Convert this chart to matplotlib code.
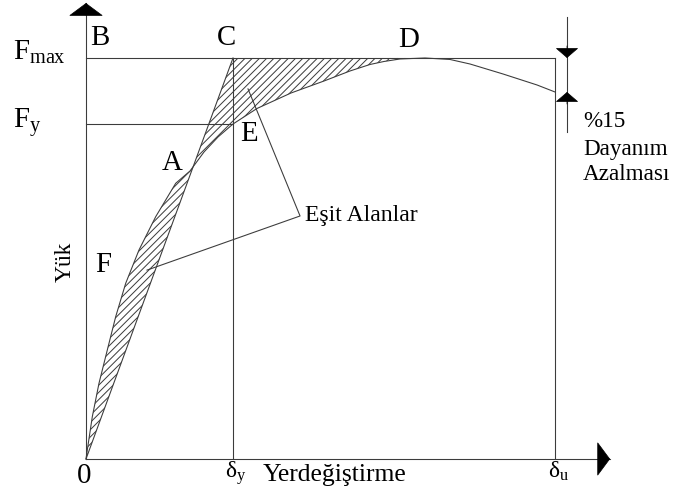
import numpy as np
import matplotlib.pyplot as plt

plt.rcParams['font.family'] = ['Liberation Serif', 'DejaVu Serif']
plt.rcParams['mathtext.fontset'] = 'custom'
plt.rcParams['mathtext.rm'] = 'Liberation Serif'
plt.rcParams['mathtext.it'] = 'Liberation Serif:italic'
plt.rcParams['hatch.linewidth'] = 0.55

# displacement normalised by delta_y, load normalised by F_max
curve_disp = [0.0, 0.0088, 0.0429, 0.0884, 0.1449, 0.2020, 0.2701, 0.3605,
              0.4741, 0.6102, 0.7075, 0.8027, 0.8980, 1.0, 1.1633, 1.3946,
              1.6190, 1.7959, 1.9320, 2.0272, 2.1361, 2.3061, 2.4762, 2.6122,
              2.8367, 3.0680, 3.1905]
curve_load = [0.0, 0.0224, 0.1055, 0.1888, 0.2718, 0.3549, 0.4382, 0.5212,
              0.6042, 0.6875, 0.7182, 0.7656, 0.8030, 0.8354, 0.8741, 0.9127,
              0.9426, 0.9676, 0.9838, 0.9913, 0.9975, 1.0, 0.9963, 0.9850,
              0.9601, 0.9327, 0.9152]

d_y, d_u = 1.0, 3.19
F_max, F_y = 1.0, 0.8354
F_u = 0.9152

# leader lines for the "equal areas" note
leader_disp = [1.102, 1.456, 0.415]
leader_load = [0.923, 0.606, 0.471]

LINE = '#3c3c3c'
LW = 0.6
DPI = 130

fig = plt.figure(figsize=(678 / DPI, 495 / DPI), dpi=DPI)
ax = fig.add_axes([0, 0, 1, 1])
ax.set_xlim(-0.585, 4.027)
ax.set_ylim(-0.0898, 1.1446)
ax.axis('off')

x = np.array(curve_disp)
y = np.array(curve_load)
peak = int(np.argmax(y))
bilinear = np.minimum(x, F_max)

# hatched areas between the capacity curve and the idealised bilinear line
ax.fill_between(x[:peak + 1], y[:peak + 1], bilinear[:peak + 1], interpolate=True,
                facecolor='none', edgecolor=LINE, hatch='//////', linewidth=0)

ax.plot(x, y, color=LINE, lw=LW, solid_joinstyle='round')
ax.plot([0, d_y], [0, F_max], color=LINE, lw=LW)
ax.plot([0, d_u], [F_max, F_max], color=LINE, lw=LW)
ax.plot([0, d_y], [F_y, F_y], color=LINE, lw=LW)
ax.plot([d_y, d_y], [0, F_max], color=LINE, lw=LW)
ax.plot([d_u, d_u], [0, F_max], color=LINE, lw=LW)
ax.plot(leader_disp, leader_load, color=LINE, lw=LW)

# axes with filled arrowheads
y_top = 1.137
x_end = 3.565
ax.plot([0, 0], [0, y_top], color=LINE, lw=LW)
ax.plot([0, x_end], [0, 0], color=LINE, lw=LW)
head = dict(shrinkA=0, shrinkB=0, mutation_scale=1, color='black', lw=0.4)
ax.annotate('', xy=(0, y_top), xytext=(0, y_top - 0.03),
            arrowprops=dict(arrowstyle='-|>,head_length=6.6,head_width=8.9', **head))
ax.annotate('', xy=(x_end, 0), xytext=(x_end - 0.08, 0),
            arrowprops=dict(arrowstyle='-|>,head_length=6.6,head_width=8.9', **head))

# strength-drop dimension
x_dim = 3.272
ax.plot([x_dim, x_dim], [0.815, 1.102], color=LINE, lw=LW)
ax.annotate('', xy=(x_dim, F_max), xytext=(x_dim, F_max + 0.03),
            arrowprops=dict(arrowstyle='-|>,head_length=5.0,head_width=5.8', **head))
ax.annotate('', xy=(x_dim, F_u), xytext=(x_dim, F_u - 0.03),
            arrowprops=dict(arrowstyle='-|>,head_length=5.0,head_width=5.8', **head))

big = 16
ax.text(-0.497, 0.995, r'F$_{\mathrm{max}}$', fontsize=big, va='baseline')
ax.text(-0.497, 0.825, r'F$_{\mathrm{y}}$', fontsize=big, va='baseline')
ax.text(0.027, 1.032, 'B', fontsize=big, va='baseline')
ax.text(0.959, 1.032, 'C', fontsize=big, va='baseline', ha='center')
ax.text(2.197, 1.027, 'D', fontsize=big, va='baseline', ha='center')
ax.text(1.048, 0.793, 'E', fontsize=big, va='baseline')
ax.text(0.517, 0.721, 'A', fontsize=big, va='baseline')
ax.text(0.061, 0.466, 'F', fontsize=big, va='baseline')
ax.text(-0.061, -0.060, '0', fontsize=big, va='baseline')

ax.text(0.946, -0.047, r'δ$_{\mathrm{y}}$', fontsize=13, va='baseline')
ax.text(3.143, -0.047, r'δ$_{\mathrm{u}}$', fontsize=13, va='baseline')
ax.text(1.204, -0.055, 'Yerdeğiştirme', fontsize=14.2, va='baseline')
ax.text(-0.143, 0.491, 'Yük', fontsize=13, rotation=90, ha='center', va='center')
ax.text(1.490, 0.5935, 'Eşit Alanlar', fontsize=13.2, va='baseline')

ax.text(3.381, 0.828, '%15', fontsize=12.8, va='baseline')
ax.text(3.381, 0.758, 'Dayanım', fontsize=12.8, va='baseline')
ax.text(3.381, 0.696, 'Azalması', fontsize=12.8, va='baseline')

fig.savefig('out.png', dpi=DPI)
plt.close(fig)
